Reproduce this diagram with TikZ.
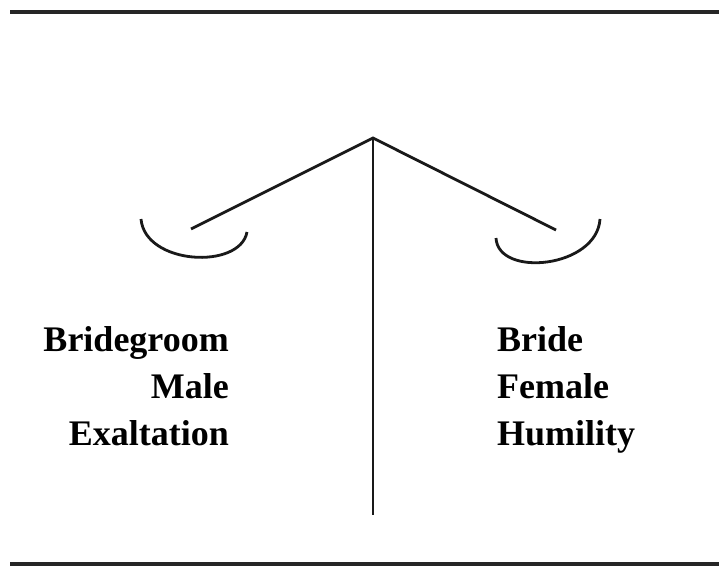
\documentclass[tikz,border=0pt]{standalone}
\usepackage{fontspec}
\setmainfont{Liberation Serif}
\begin{document}
\begin{tikzpicture}[x=1pt,y=-1pt,
  rule/.style={line width=3.2pt,black!85},
  bar/.style={line width=2.8pt,black!90},
  lbl/.style={font=\fontsize{36}{47}\selectfont\bfseries,inner sep=0pt,align=left}]
\useasboundingbox (0,0) rectangle (719,567);
\coordinate (tl) at (10,12);
\coordinate (tr) at (719,12);
\coordinate (bl) at (10,564);
\coordinate (br) at (719,564);
\draw[rule] (tl) -- (tr);
\draw[rule] (bl) -- (br);
\coordinate (apex) at (373,138);
\coordinate (foot) at (373,515);
\coordinate (lend) at (191,229);
\coordinate (rend) at (556,230);
\draw[bar] (apex) -- (foot);
\draw[bar,line join=miter] (lend) -- (apex) -- (rend);
\coordinate (lp1) at (141,219);
\coordinate (lp2) at (247,232);
\coordinate (rp1) at (496,238);
\coordinate (rp2) at (600,219);
\draw[bar] (lp1) .. controls (145,265) and (240,270) .. (lp2);
\draw[bar] (rp1) .. controls (498,278) and (597,268) .. (rp2);
\node[lbl,anchor=base east,align=right] (left) at (229,445) {Bridegroom\\Male\\Exaltation};
\node[lbl,anchor=base west] (right) at (497,445) {Bride\\Female\\Humility};
\end{tikzpicture}
\end{document}
